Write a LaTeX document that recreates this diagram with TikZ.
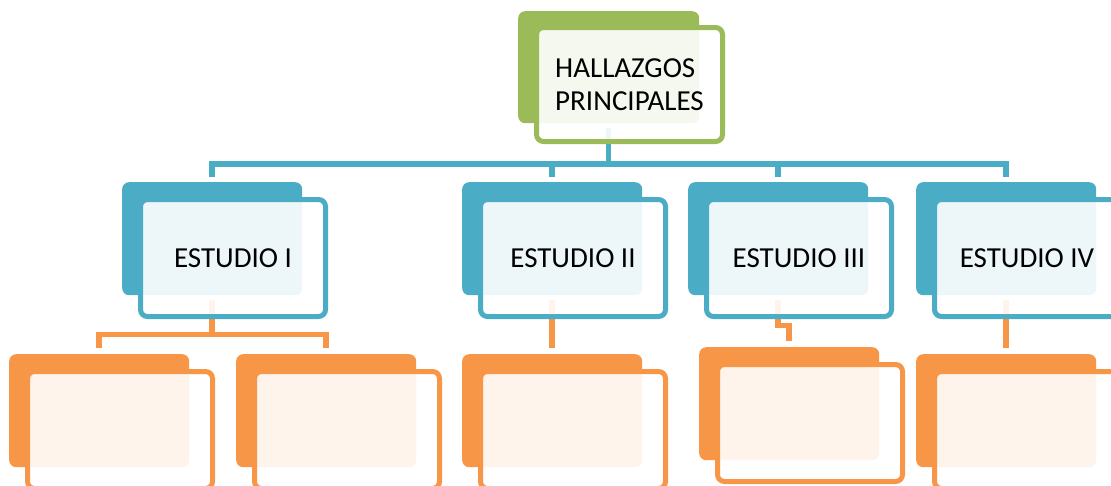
\documentclass[tikz,border=0pt]{standalone}
\usepackage{fontspec}
\setmainfont{Carlito}
\definecolor{cgreen}{HTML}{9BBB59}
\definecolor{cblue}{HTML}{4BACC6}
\definecolor{corange}{HTML}{F79646}
\pgfdeclarelayer{bg}
\pgfsetlayers{bg,main}
\tikzset{
  backbox/.style={fill=#1, draw=none, rounded corners=7pt, minimum width=180pt, minimum height=113pt, inner sep=0pt, anchor=north west},
  frontbox/.style={draw=#1, line width=5pt, fill=white, fill opacity=0.9, text opacity=1, rounded corners=7pt, minimum width=185pt, minimum height=117pt, inner sep=0pt, font=\fontsize{29}{33}\selectfont, align=left},
  con/.style={draw=#1, line width=5.5pt},
}
\begin{document}
\begin{tikzpicture}[x=1pt,y=-1pt]
\useasboundingbox (0,0) rectangle (1111,485);
% root
\node[backbox=cgreen, minimum width=181pt, minimum height=112pt] (Gb) at (518,11) {};
\node[frontbox=cgreen, minimum width=186pt, minimum height=114pt] (Gf) at (629.5,84.5) {HALLAZGOS\\PRINCIPALES};
% level 2
\node[backbox=cblue] (B1b) at (122,182) {};
\node[frontbox=cblue] (B1f) at (233,258) {ESTUDIO I};
\node[backbox=cblue] (B2b) at (462,182) {};
\node[frontbox=cblue] (B2f) at (573,258) {ESTUDIO II};
\node[backbox=cblue] (B3b) at (688,182) {};
\node[frontbox=cblue] (B3f) at (799,258) {ESTUDIO III};
\node[backbox=cblue] (B4b) at (916,182) {};
\node[frontbox=cblue] (B4f) at (1027,258) {ESTUDIO IV};
% level 3
\node[backbox=corange] (O1b) at (9,354) {};
\node[frontbox=corange] (O1f) at (120,430) {};
\node[backbox=corange] (O2b) at (236,354) {};
\node[frontbox=corange] (O2f) at (347,430) {};
\node[backbox=corange] (O3b) at (462,354) {};
\node[frontbox=corange] (O3f) at (573,430) {};
\node[backbox=corange] (O4b) at (699,347) {};
\node[frontbox=corange] (O4f) at (810,423) {};
\node[backbox=corange] (O5b) at (916,354) {};
\node[frontbox=corange] (O5f) at (1027,430) {};
% connectors
\begin{pgfonlayer}{bg}
\coordinate (hub) at ([yshift=-40.5pt]Gb.south);
\draw[con=cblue] ([yshift=-5pt]Gb.south) -- (hub);
\draw[con=cblue] ([yshift=5pt]B1b.north) |- (hub) -| ([yshift=5pt]B4b.north);
\draw[con=cblue] (hub -| B2b.north) -- ([yshift=5pt]B2b.north);
\draw[con=cblue] (hub -| B3b.north) -- ([yshift=5pt]B3b.north);
\coordinate (hubA) at ([yshift=-39pt]B1b.south);
\draw[con=corange] ([yshift=-5pt]B1b.south) -- (hubA);
\draw[con=corange] ([yshift=6pt]O1b.north) |- (hubA) -| ([yshift=6pt]O2b.north);
\draw[con=corange] ([yshift=-5pt]B2b.south) -- ([yshift=6pt]O3b.north);
\coordinate (jog) at ([yshift=-30pt]B3b.south);
\draw[con=corange] ([yshift=-5pt]B3b.south) -- (jog) -| ([yshift=6pt]O4b.north);
\draw[con=corange] ([yshift=-5pt]B4b.south) -- ([yshift=6pt]O5b.north);
\end{pgfonlayer}
\end{tikzpicture}
\end{document}
